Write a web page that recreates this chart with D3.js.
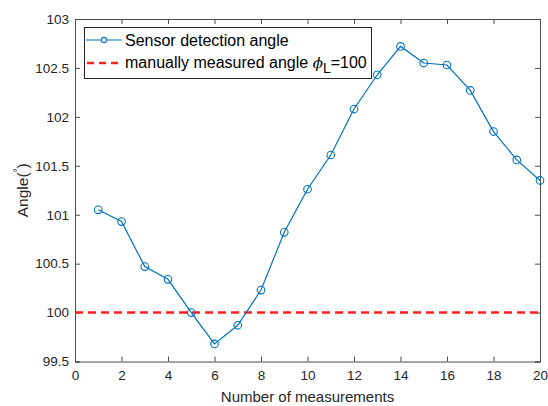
<!DOCTYPE html>
<html><head><meta charset="utf-8">
<script src="https://cdn.jsdelivr.net/npm/d3@7"></script>
<style>body{margin:0;background:#fff}svg{display:block}text{font-family:"Liberation Sans",Arial,sans-serif}</style>
</head><body><svg id="c" width="548" height="406"></svg>
<script>
const measurements = [1,2,3,4,5,6,7,8,9,10,11,12,13,14,15,16,17,18,19,20];
const sensorAngle = [101.05,100.93,100.47,100.34,100.0,99.68,99.87,100.23,100.82,101.26,101.61,102.08,102.43,102.72,102.55,102.53,102.27,101.85,101.56,101.35];
const manualAngle = 100;
const xTicks = [0,2,4,6,8,10,12,14,16,18,20];
const yTicks = [99.5,100,100.5,101,101.5,102,102.5,103];

const svg = d3.select("#c");
const L=75,R=540,T=19,B=361.5;
const x = d3.scaleLinear().domain([0,20]).range([L,R]);
const y = d3.scaleLinear().domain([99.5,103]).range([B,T]);
const axisCol="#262626", tickLen=5;

const g = svg.append("g");
const ax = g.append("g").attr("transform",`translate(0,${B})`)
  .call(d3.axisBottom(x).tickValues(xTicks).tickSize(-tickLen).tickPadding(9).tickFormat(d3.format("d")));
const ay = g.append("g").attr("transform",`translate(${L},0)`)
  .call(d3.axisLeft(y).tickValues(yTicks).tickSize(-tickLen).tickPadding(6).tickFormat(d=>d3.format("")(d)));
const at = g.append("g").attr("transform",`translate(0,${T})`)
  .call(d3.axisTop(x).tickValues(xTicks).tickSize(-tickLen).tickFormat(""));
const ar = g.append("g").attr("transform",`translate(${R},0)`)
  .call(d3.axisRight(y).tickValues(yTicks).tickSize(-tickLen).tickFormat(""));
[ax,ay,at,ar].forEach(a=>{
  a.select(".domain").attr("stroke-width",1).attr("stroke","#4d4d4d");
  a.selectAll(".tick line").attr("stroke","#4d4d4d");
  a.selectAll(".tick text").attr("fill",axisCol).style("font-size","13.5px");
});

g.append("line").attr("x1",x(0)).attr("x2",x(20)).attr("y1",y(manualAngle)).attr("y2",y(manualAngle))
 .attr("stroke","#ff2020").attr("stroke-width",2.5).attr("stroke-dasharray","8,5");

const blueM="#0072bd";
const pts = measurements.map((m,i)=>[m,sensorAngle[i]]);
g.append("path").datum(pts)
 .attr("fill","none").attr("stroke",blueM).attr("stroke-width",1.2)
 .attr("d",d3.line().x(d=>x(d[0])).y(d=>y(d[1])));
g.selectAll("circle.pt").data(pts).join("circle")
 .attr("class","pt").attr("cx",d=>x(d[0])).attr("cy",d=>y(d[1])).attr("r",3.8)
 .attr("fill","none").attr("stroke",blueM).attr("stroke-width",1.1);

svg.append("text").attr("x",(L+R)/2).attr("y",402).attr("text-anchor","middle")
 .attr("fill",axisCol).style("font-size","15px").text("Number of measurements");
const yl = svg.append("text").attr("transform",`translate(28,${(T+B)/2}) rotate(-90)`)
 .attr("text-anchor","middle").attr("fill",axisCol).style("font-size","15.5px");
yl.append("tspan").text("Angle(");
yl.append("tspan").attr("dy",-7).style("font-size","10px").text("°");
yl.append("tspan").attr("dy",7).text(")");

const lg = svg.append("g");
lg.append("rect").attr("x",84.5).attr("y",27.5).attr("width",287).attr("height",51)
 .attr("fill","#fff").attr("stroke","#262626").attr("stroke-width",1);
lg.append("line").attr("x1",86).attr("x2",122).attr("y1",40).attr("y2",40).attr("stroke",blueM).attr("stroke-width",1.2);
lg.append("circle").attr("cx",104).attr("cy",40).attr("r",2.6).attr("fill","#fff").attr("stroke",blueM).attr("stroke-width",1.1);
lg.append("text").attr("x",125).attr("y",45.5).attr("fill","#000").style("font-size","16px").text("Sensor detection angle");
lg.append("line").attr("x1",87).attr("x2",122).attr("y1",63).attr("y2",63).attr("stroke","#ff2020").attr("stroke-width",2.5).attr("stroke-dasharray","7,5");
const t2 = lg.append("text").attr("x",125).attr("y",68).attr("fill","#000").style("font-size","16px");
t2.append("tspan").text("manually measured angle ");
t2.append("tspan").style("font-style","italic").style("font-family","DejaVu Serif").style("font-size","15px").text("ϕ");
t2.append("tspan").attr("dy",5).style("font-size","14px").text("L");
t2.append("tspan").attr("dy",-5).text("=100");
</script></body></html>
